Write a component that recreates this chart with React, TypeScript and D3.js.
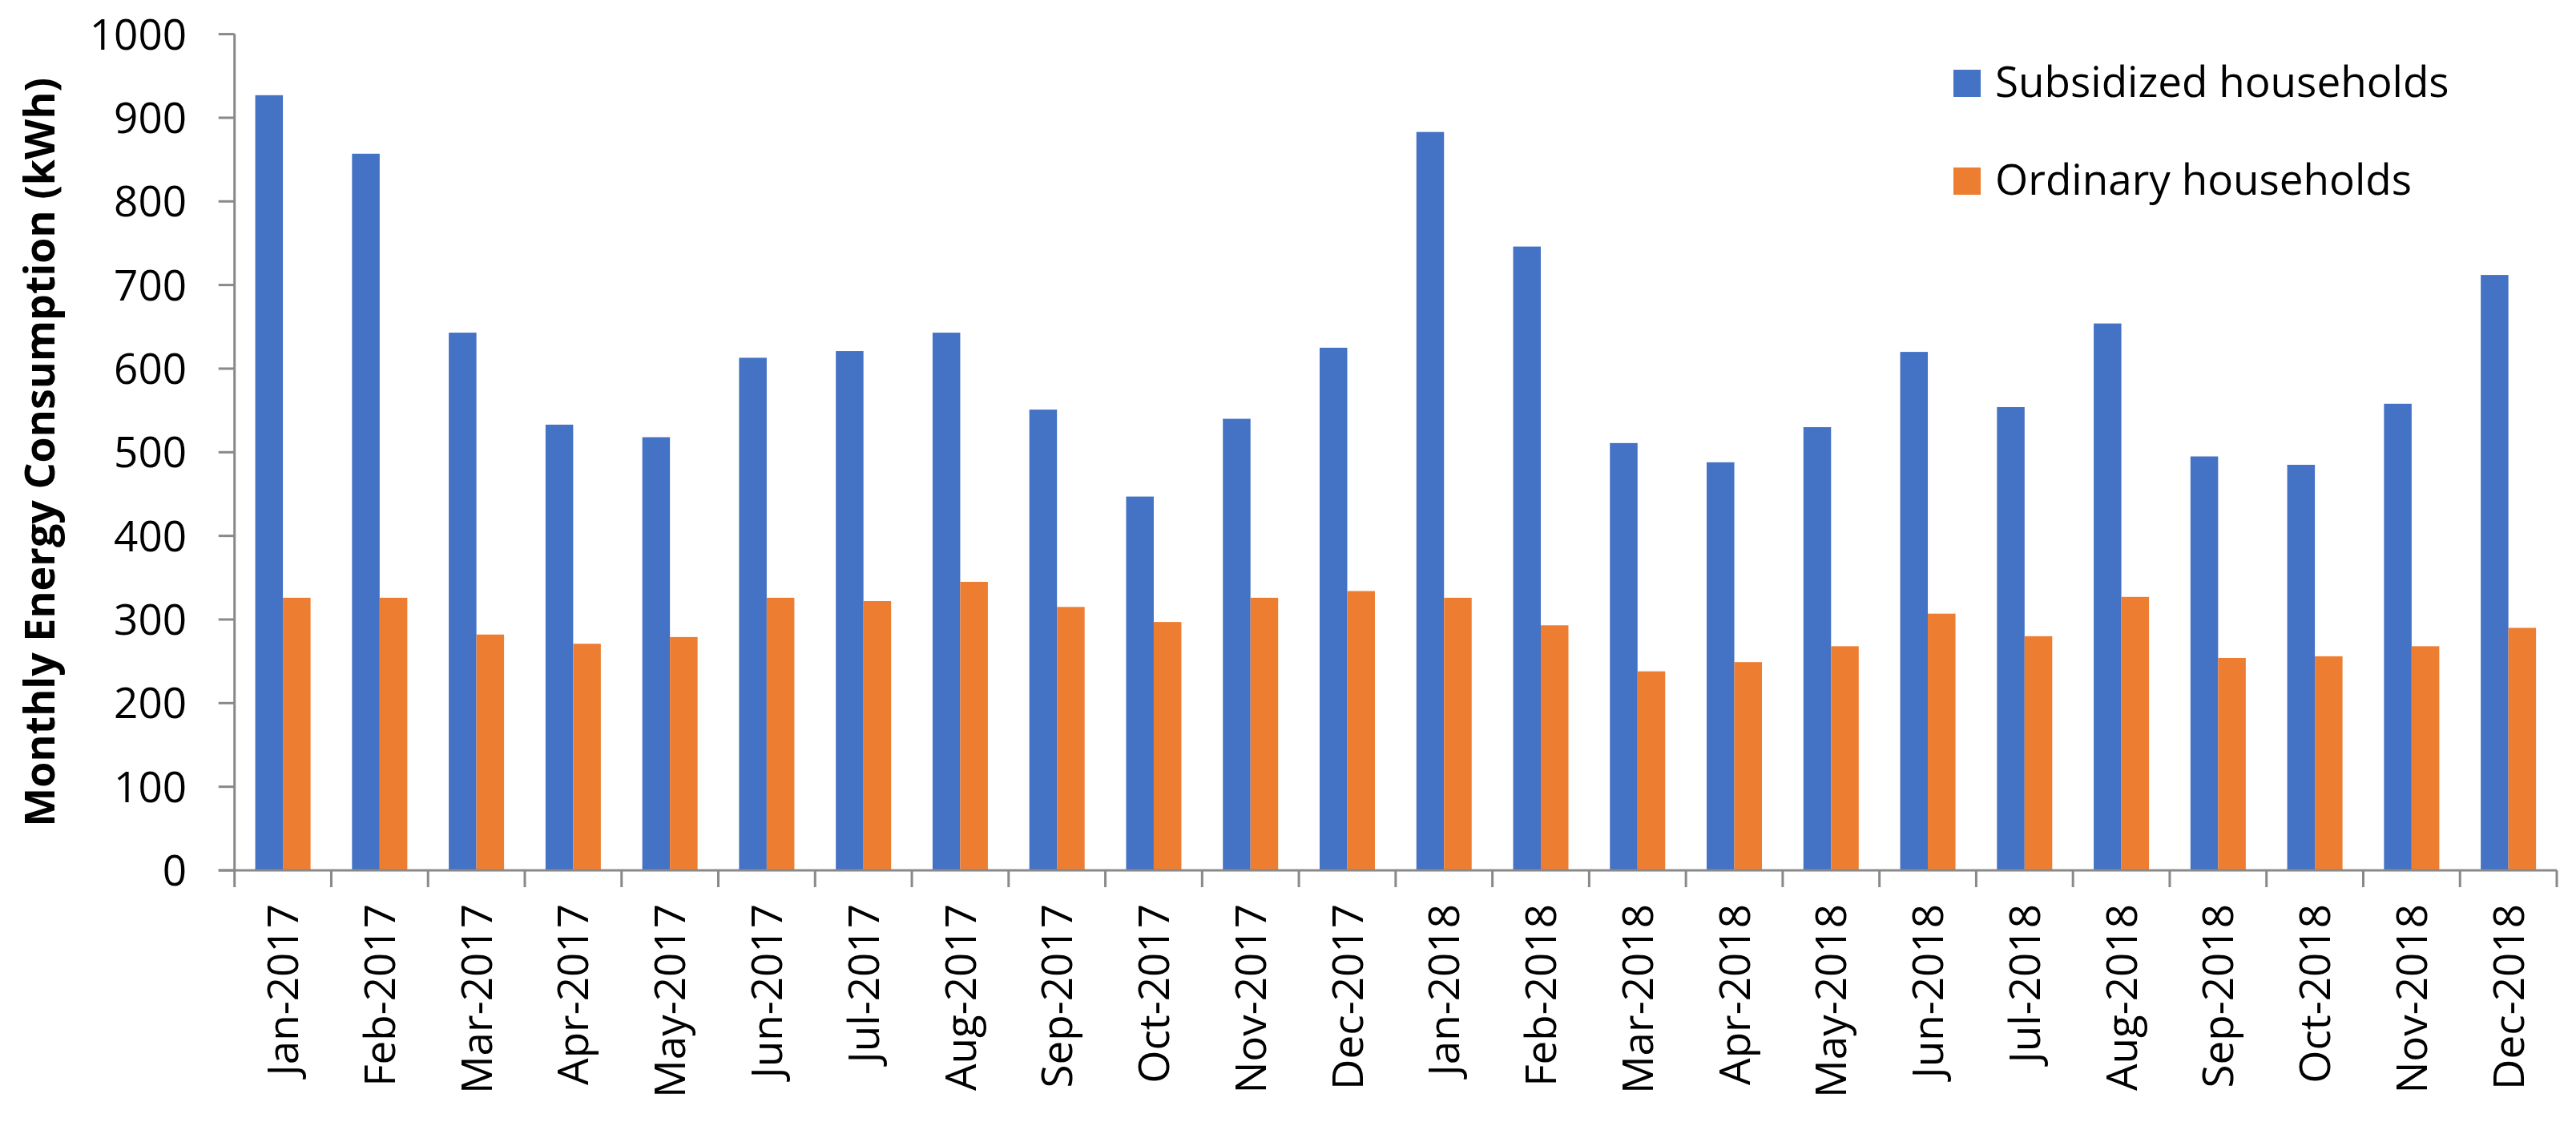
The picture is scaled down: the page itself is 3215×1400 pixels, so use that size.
import React from "react";
import * as d3 from "d3";

const months = [
  "Jan-2017", "Feb-2017", "Mar-2017", "Apr-2017", "May-2017", "Jun-2017",
  "Jul-2017", "Aug-2017", "Sep-2017", "Oct-2017", "Nov-2017", "Dec-2017",
  "Jan-2018", "Feb-2018", "Mar-2018", "Apr-2018", "May-2018", "Jun-2018",
  "Jul-2018", "Aug-2018", "Sep-2018", "Oct-2018", "Nov-2018", "Dec-2018",
];
const subsidized = [927, 857, 643, 533, 518, 613, 621, 643, 551, 447, 540, 625, 883, 746, 511, 488, 530, 620, 554, 654, 495, 485, 558, 712];
const ordinary = [326, 326, 282, 271, 279, 326, 322, 345, 315, 297, 326, 334, 326, 293, 238, 249, 268, 307, 280, 327, 254, 256, 268, 290];
const seriesNames = ["Subsidized households", "Ordinary households"];
const seriesColors = ["#4472C4", "#ED7D31"];
const yTicks = [0, 100, 200, 300, 400, 500, 600, 700, 800, 900, 1000];
const yTitle = "Monthly Energy Consumption (kWh)";

const W = 3215;
const H = 1400;
const FONT = "'Open Sans', 'DejaVu Sans', sans-serif";
const AXIS = "#898989";

export default function App() {
  const x0 = 292.7;
  const x1 = 3191;
  const yBase = 1086;
  const yTop = 42.6;
  const x = d3.scaleBand<string>().domain(months).range([x0, x1]).padding(0);
  const bw = x.bandwidth();
  const xs = d3.scaleBand<string>().domain(seriesNames).range([0, bw]).paddingInner(0).paddingOuter(0.75);
  const y = d3.scaleLinear().domain([0, 1000]).range([yBase, yTop]);
  const series = [subsidized, ordinary];

  return (
    <div style={{ position: "absolute", left: 0, top: 0 }}>
      <svg width={W} height={H} style={{ display: "block", background: "#fff" }} fontFamily={FONT}>
        <rect x={0} y={0} width={W} height={H} fill="#fff" />
        {/* bars */}
        {series.map((vals, si) => (
          <g key={si} fill={seriesColors[si]}>
            {months.map((m, i) => (
              <rect
                key={m}
                x={(x(m) as number) + (xs(seriesNames[si]) as number)}
                y={y(vals[i])}
                width={xs.bandwidth()}
                height={yBase - y(vals[i])}
              />
            ))}
          </g>
        ))}
        {/* y axis */}
        <line x1={x0} x2={x0} y1={y(1000)} y2={yBase} stroke={AXIS} strokeWidth={3} />
        {yTicks.map((t) => (
          <g key={t}>
            <line x1={x0 - 20} x2={x0} y1={y(t)} y2={y(t)} stroke={AXIS} strokeWidth={3} />
            <text x={233} y={y(t)} dy="0.36em" textAnchor="end" fontSize={53} fill="#000">
              {t}
            </text>
          </g>
        ))}
        {/* x axis */}
        <line x1={x0 - 20} x2={x1} y1={yBase} y2={yBase} stroke={AXIS} strokeWidth={3} />
        {months.concat(["__end"]).map((m, i) => {
          const px = i < months.length ? (x(m) as number) : x1;
          return <line key={m} x1={px} x2={px} y1={yBase} y2={yBase + 21} stroke={AXIS} strokeWidth={3} />;
        })}
        {months.map((m) => {
          const cx = (x(m) as number) + bw / 2;
          return (
            <text
              key={m}
              transform={`translate(${cx},1128) rotate(-90)`}
              dy="0.36em"
              textAnchor="end"
              fontSize={53}
              fill="#000"
            >
              {m}
            </text>
          );
        })}
        {/* y title */}
        <text
          transform={`translate(68,${(yTop + yBase) / 2}) rotate(-90)`}
          textAnchor="middle"
          fontSize={52}
          fontWeight="bold"
          fill="#000"
        >
          {yTitle}
        </text>
        {/* legend */}
        {seriesNames.map((name, i) => (
          <g key={name} transform={`translate(2438,${87 + i * 122})`}>
            <rect x={0} y={0} width={34} height={34} fill={seriesColors[i]} />
            <text x={52} y={34} fontSize={53} fill="#000">
              {name}
            </text>
          </g>
        ))}
      </svg>
    </div>
  );
}
